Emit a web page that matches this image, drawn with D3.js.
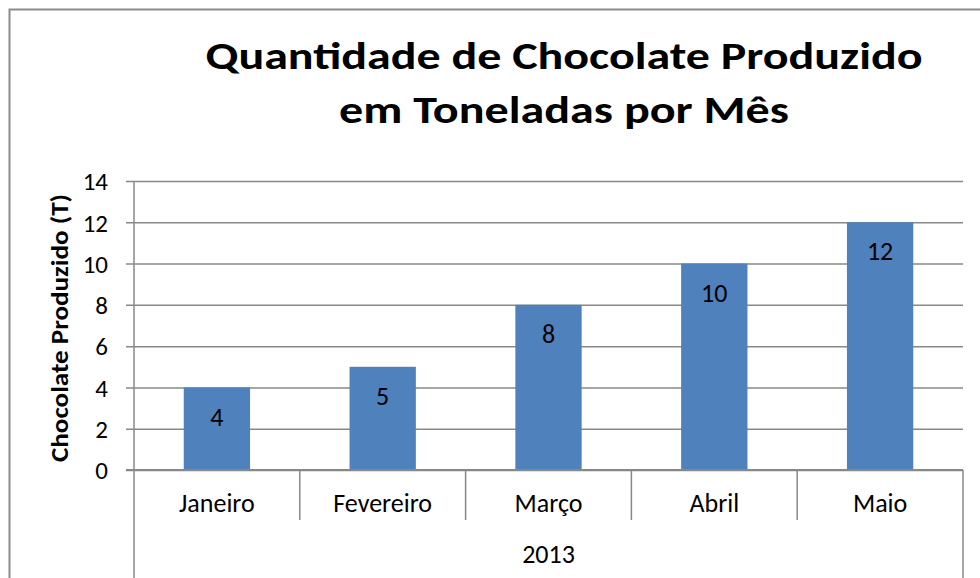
<!DOCTYPE html>
<html>
<head>
<meta charset="utf-8">
<script src="https://cdn.jsdelivr.net/npm/d3@7"></script>
<style>
  body { margin: 0; background: #fff; }
  text { font-family: Carlito, Lato, "Open Sans", sans-serif; fill: #000; }
</style>
</head>
<body>
<div id="chart"></div>
<script>
// Chart data
const months = ['Janeiro', 'Fevereiro', 'Março', 'Abril', 'Maio'];
const produced = [4, 5, 8, 10, 12];
const yTicks = [0, 2, 4, 6, 8, 10, 12, 14];
const groupLabel = '2013';
const titleLines = ['Quantidade de Chocolate Produzido', 'em Toneladas por Mês'];
const yTitle = 'Chocolate Produzido (T)';

const W = 980, H = 578;
const plot = { left: 134, right: 963, top: 181, bottom: 470 };
const gridColor = '#888888';

const svg = d3.select('#chart').append('svg')
    .attr('width', W)
    .attr('height', H);

// outer chart border (runs past right/bottom edge)
svg.append('rect')
    .attr('x', 9.5).attr('y', 9.5)
    .attr('width', W + 20).attr('height', H + 20)
    .attr('fill', 'none')
    .attr('stroke', '#8c8c8c')
    .attr('stroke-width', 2);

const x = d3.scaleBand()
    .domain(months)
    .range([plot.left, plot.right])
    .paddingInner(0)
    .paddingOuter(0);

const y = d3.scaleLinear()
    .domain([0, 14])
    .range([plot.bottom, plot.top]);

// Gridlines + y ticks
const yAxis = d3.axisLeft(y)
    .tickValues(yTicks)
    .tickSize(-(plot.right - plot.left))
    .tickPadding(26)
    .tickFormat(d => d);

const gy = svg.append('g')
    .attr('transform', `translate(${plot.left},0)`)
    .call(yAxis)
    .attr('font-family', null)
    .attr('font-size', null);
gy.select('.domain').remove();
gy.selectAll('.tick line')
    .attr('x1', -8)
    .attr('stroke', gridColor)
    .attr('stroke-width', 1.5);
gy.selectAll('.tick text')
    .style('font-size', '25px')
    .attr('dy', '0.35em');

// y axis line
svg.append('line')
    .attr('x1', plot.left).attr('x2', plot.left)
    .attr('y1', plot.top).attr('y2', plot.bottom)
    .attr('stroke', gridColor).attr('stroke-width', 1.5);

// Bars
const barW = x.bandwidth() * 0.4;
svg.selectAll('.bar')
    .data(months)
    .enter().append('rect')
    .attr('class', 'bar')
    .attr('x', d => x(d) + (x.bandwidth() - barW) / 2)
    .attr('y', (d, i) => y(produced[i]))
    .attr('width', barW)
    .attr('height', (d, i) => y(0) - y(produced[i]))
    .attr('fill', '#4F81BD');

// Value labels inside bars
svg.selectAll('.val')
    .data(months)
    .enter().append('text')
    .attr('class', 'val')
    .attr('x', d => x(d) + x.bandwidth() / 2)
    .attr('y', (d, i) => y(produced[i]) + 29)
    .attr('text-anchor', 'middle')
    .attr('dy', '0.35em')
    .style('font-size', '26px')
    .text((d, i) => produced[i]);

// Baseline
svg.append('line')
    .attr('x1', plot.left - 8).attr('x2', plot.right)
    .attr('y1', plot.bottom).attr('y2', plot.bottom)
    .attr('stroke', gridColor).attr('stroke-width', 2);

// Category separators (short) and outer group lines (long)
const edges = months.map(d => x(d)).concat([plot.right]);
svg.selectAll('.sep')
    .data(edges)
    .enter().append('line')
    .attr('x1', d => d).attr('x2', d => d)
    .attr('y1', plot.bottom)
    .attr('y2', (d, i) => (i === 0 || i === edges.length - 1) ? H + 5 : 520)
    .attr('stroke', gridColor).attr('stroke-width', 1.5);

// Category labels
svg.selectAll('.cat')
    .data(months)
    .enter().append('text')
    .attr('x', d => x(d) + x.bandwidth() / 2)
    .attr('y', 512)
    .attr('text-anchor', 'middle')
    .style('font-size', '26px')
    .text(d => d);

svg.append('text')
    .attr('x', (plot.left + plot.right) / 2)
    .attr('y', 563)
    .attr('text-anchor', 'middle')
    .style('font-size', '26px')
    .text(groupLabel);

// Y axis title
svg.append('text')
    .attr('transform', 'translate(60,328) rotate(-90)')
    .attr('text-anchor', 'middle')
    .attr('dy', '0.35em')
    .style('font-size', '24px')
    .style('font-weight', 'bold')
    .attr('textLength', 268)
    .attr('lengthAdjust', 'spacingAndGlyphs')
    .text(yTitle);

// Title
const titleWidths = [717, 450];
const titleY = [69, 123];
svg.selectAll('.title')
    .data(titleLines)
    .enter().append('text')
    .attr('x', 564)
    .attr('y', (d, i) => titleY[i])
    .attr('text-anchor', 'middle')
    .style('font-size', '38px')
    .style('font-weight', 'bold')
    .attr('textLength', (d, i) => titleWidths[i])
    .attr('lengthAdjust', 'spacingAndGlyphs')
    .text(d => d);
</script>
</body>
</html>
